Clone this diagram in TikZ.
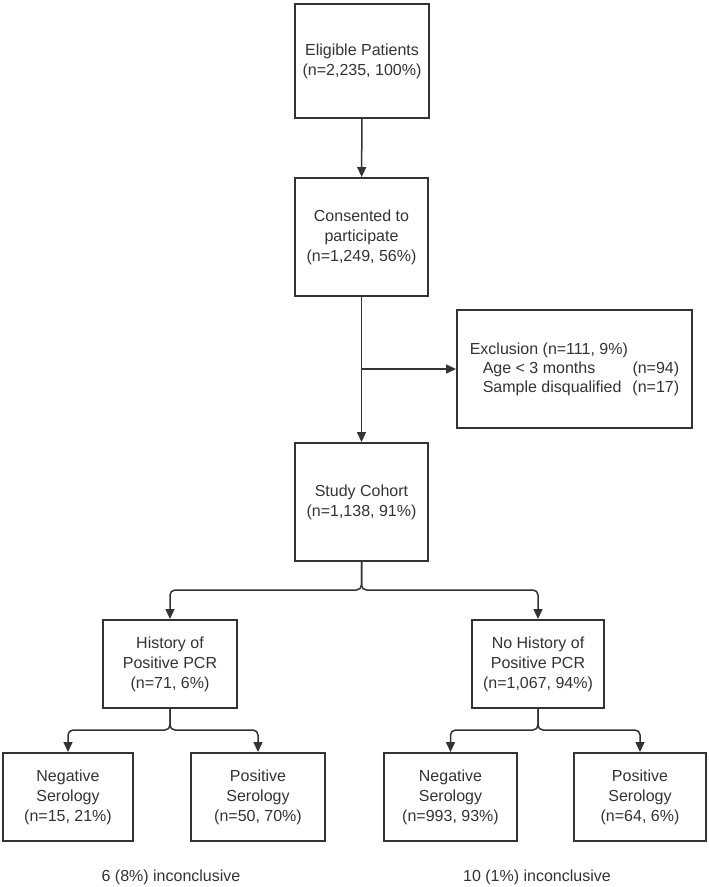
\documentclass[tikz,border=0pt]{standalone}
\usepackage{fontspec}
\setmainfont{Liberation Sans}
\usetikzlibrary{arrows.meta}
\definecolor{inkgray}{HTML}{333333}
\tikzset{
  flowbox/.style={draw=inkgray,line width=2pt,align=center,text=inkgray,
    font=\fontsize{16}{20}\selectfont,inner sep=0pt},
  flowline/.style={draw=inkgray,line width=1.5pt,-{Triangle[length=10pt,width=9pt]}},
  note/.style={text=inkgray,font=\fontsize{16}{20}\selectfont}
}
\begin{document}
\begin{tikzpicture}[x=1pt,y=-1pt]
  \useasboundingbox (0,0) rectangle (709,887);
  % main column
  \node at (362,61) [flowbox,minimum width=134pt,minimum height=114pt] (elig) {Eligible Patients\\(n=2,235, 100\%)};
  \node at (361.5,237) [flowbox,minimum width=133pt,minimum height=118pt] (cons) {Consented to\\participate\\(n=1,249, 56\%)};
  \node at (574.5,369) [flowbox,minimum width=235pt,minimum height=118pt] (excl) {%
    \begin{tabular}{@{}l@{}r@{}}
      \multicolumn{2}{@{}l@{}}{Exclusion (n=111, 9\%)}\\[-1pt]
      \hspace{13pt}Age < 3 months & (n=94)\\[-1pt]
      \hspace{13pt}Sample disqualified & \hspace{11pt}(n=17)
    \end{tabular}};
  \node at (361.5,502) [flowbox,minimum width=133pt,minimum height=118pt] (coh) {Study Cohort\\(n=1,138, 91\%)};
  % second level
  \node at (170,664) [flowbox,minimum width=134pt,minimum height=88pt] (hist) {History of\\Positive PCR\\(n=71, 6\%)};
  \node at (538,664) [flowbox,minimum width=132pt,minimum height=88pt] (nohist) {No History of\\Positive PCR\\(n=1,067, 94\%)};
  % serology boxes
  \node at (68,797) [flowbox,minimum width=130pt,minimum height=88pt] (negA) {Negative\\Serology\\(n=15, 21\%)};
  \node at (258,797) [flowbox,minimum width=134pt,minimum height=88pt] (posA) {Positive\\Serology\\(n=50, 70\%)};
  \node at (450.5,797) [flowbox,minimum width=133pt,minimum height=88pt] (negB) {Negative\\Serology\\(n=993, 93\%)};
  \node at (640,797) [flowbox,minimum width=132pt,minimum height=88pt] (posB) {Positive\\Serology\\(n=64, 6\%)};
  \node at (171,877) [note] (incA) {6 (8\%) inconclusive};
  \node at (537,877) [note] (incB) {10 (1\%) inconclusive};
  % split points
  \coordinate (exsplit) at (361.5,369);
  \coordinate (cohsplit) at (361.5,590);
  \coordinate (histsplit) at (170,730);
  \coordinate (nohistsplit) at (538,730);
  % connectors
  \draw[flowline] (elig) to (cons);
  \draw[flowline] (cons) to (coh);
  \draw[flowline] (exsplit) to (excl.west);
  \draw[flowline,rounded corners=5pt] (coh.south) -- (cohsplit) -| (hist.north);
  \draw[flowline,rounded corners=5pt] (coh.south) -- (cohsplit) -| (nohist.north);
  \draw[flowline,rounded corners=5pt] (hist.south) -- (histsplit) -| (negA.north);
  \draw[flowline,rounded corners=5pt] (hist.south) -- (histsplit) -| (posA.north);
  \draw[flowline,rounded corners=5pt] (nohist.south) -- (nohistsplit) -| (negB.north);
  \draw[flowline,rounded corners=5pt] (nohist.south) -- (nohistsplit) -| (posB.north);
\end{tikzpicture}
\end{document}
